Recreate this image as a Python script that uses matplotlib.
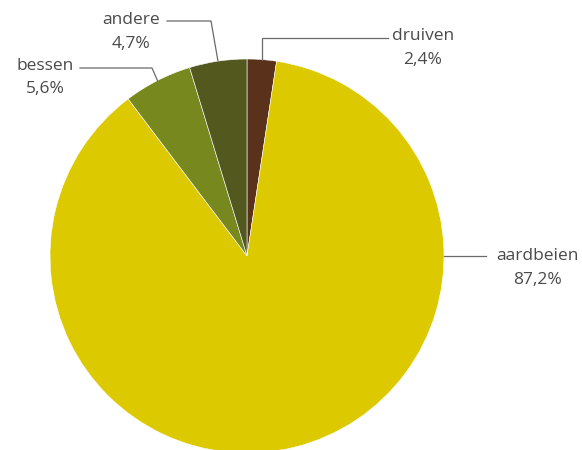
import matplotlib.pyplot as plt
import numpy as np

# data
labels = ['druiven', 'aardbeien', 'bessen', 'andere']
values = [2.4, 87.2, 5.6, 4.7]
pct_text = ['2,4%', '87,2%', '5,6%', '4,7%']
colors = ['#5a321b', '#dcc900', '#77881f', '#53581f']

W, H = 582, 450
cx, cy, r = 247, 450 - 256, 197

fig = plt.figure(figsize=(W / 100, H / 100), dpi=100)
ax = fig.add_axes([0, 0, 1, 1])

wedges, _ = ax.pie(values, colors=colors, startangle=90, counterclock=False,
                   center=(cx, cy), radius=r, frame=True,
                   wedgeprops=dict(linewidth=0.4, edgecolor='white'))
ax.set_xlim(0, W)
ax.set_ylim(0, H)
ax.set_aspect('equal')
ax.axis('off')

# leader lines: start on the rim (mid angle of wedge), elbow, then horizontal
def rim(w, ang=None):
    if ang is None:
        ang = (w.theta1 + w.theta2) / 2
    a = np.deg2rad(ang)
    return cx + r * np.cos(a), cy + r * np.sin(a)

lc = '#6a6a6a'
tc = '#4a4a4a'
fnt = dict(family=['Open Sans', 'DejaVu Sans'], size=12.5, color=tc)

# druiven
x0, y0 = rim(wedges[0])
ax.plot([x0, x0, 388], [y0, H - 38, H - 38], color=lc, lw=0.9)
ax.text(423, H - 36, labels[0], ha='center', va='center', **fnt)
ax.text(423, H - 60, pct_text[0], ha='center', va='center', **fnt)

# aardbeien
x0, y0 = rim(wedges[1], 0)
ax.plot([x0, 486], [y0, y0], color=lc, lw=0.9)
ax.text(537, H - 256, labels[1], ha='center', va='center', **fnt)
ax.text(537, H - 280, pct_text[1], ha='center', va='center', **fnt)

# bessen
x0, y0 = rim(wedges[2])
ax.plot([x0, 152, 80], [y0, H - 68, H - 68], color=lc, lw=0.9)
ax.text(45, H - 66, labels[2], ha='center', va='center', **fnt)
ax.text(45, H - 89, pct_text[2], ha='center', va='center', **fnt)

# andere
x0, y0 = rim(wedges[3])
ax.plot([x0, 211, 167], [y0, H - 21, H - 21], color=lc, lw=0.9)
ax.text(131, H - 20, labels[3], ha='center', va='center', **fnt)
ax.text(131, H - 44, pct_text[3], ha='center', va='center', **fnt)

fig.savefig('out.png', dpi=100)
